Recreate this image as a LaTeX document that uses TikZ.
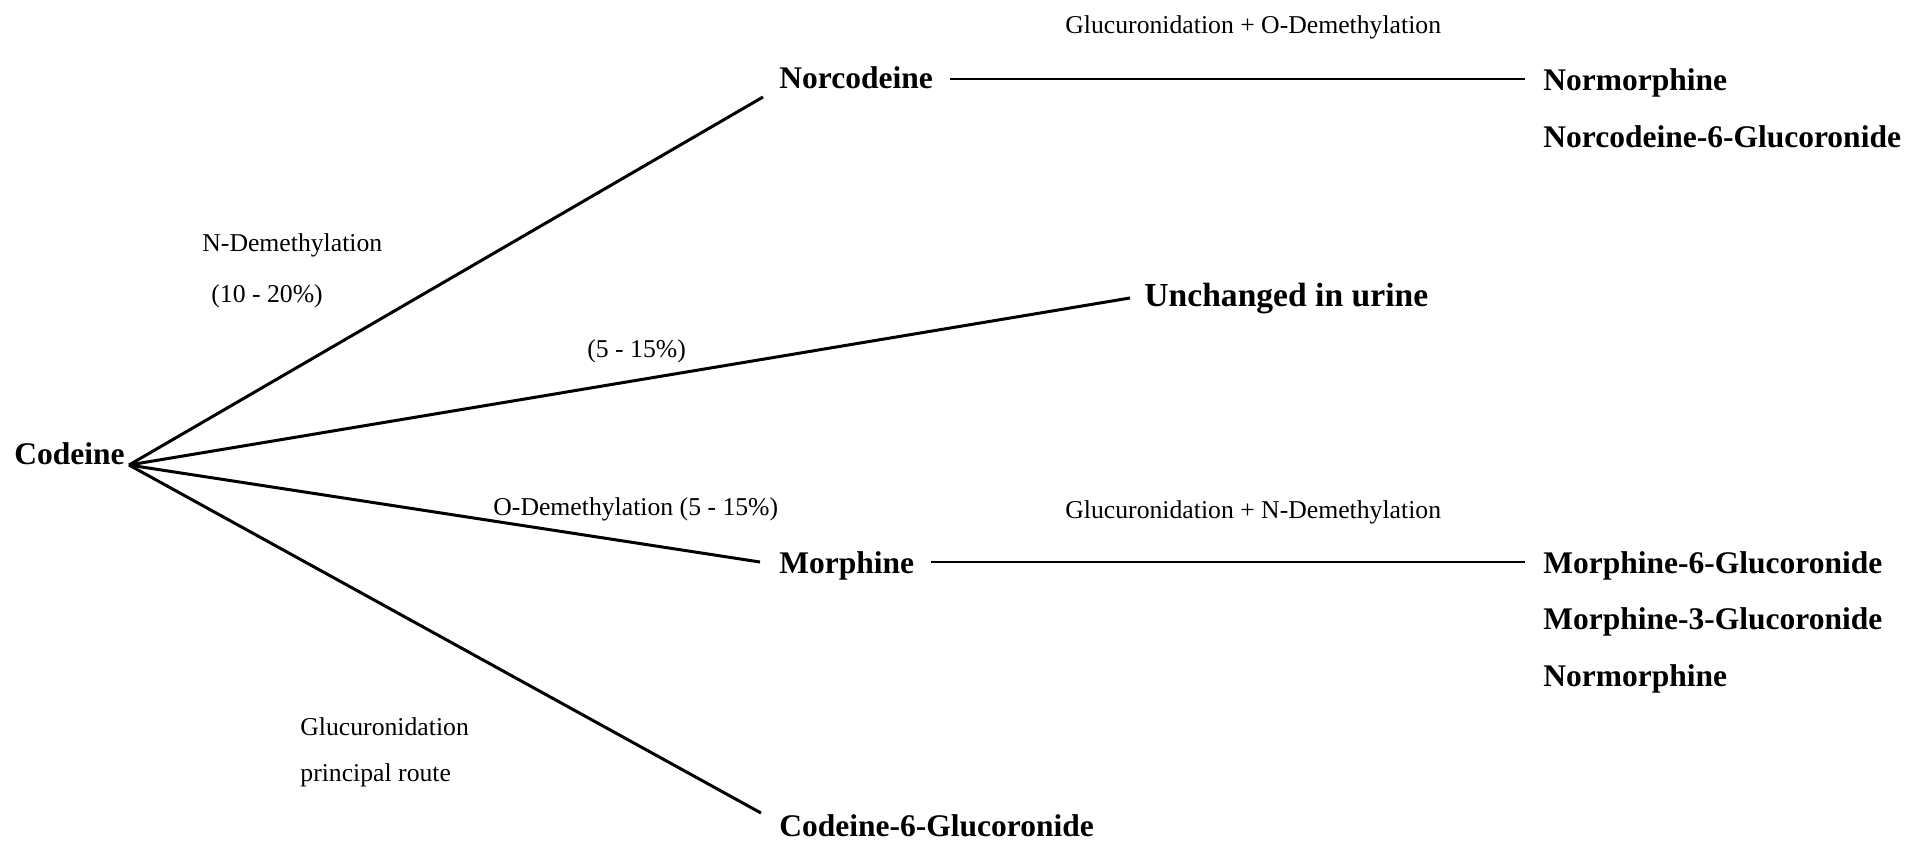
\documentclass[tikz,border=0pt]{standalone}
\usepackage{fontspec}
\setmainfont{Liberation Serif}
\begin{document}
\begin{tikzpicture}[x=0.5pt,y=-0.5pt,
  prod/.style={font=\fontsize{15.75pt}{18pt}\selectfont\bfseries,inner sep=0pt,anchor=base west},
  bigprod/.style={prod,font=\fontsize{16.8pt}{19pt}\selectfont\bfseries},
  lab/.style={font=\fontsize{12.85pt}{15pt}\selectfont,inner sep=0pt,anchor=base west},
  path/.style={line width=1.5pt},
  hpath/.style={line width=1.2pt}]
\useasboundingbox (0,0) rectangle (1909,841);
% product nodes
\node[prod] (cod) at (14,464) {Codeine};
\node[prod] (norc) at (779,88) {Norcodeine};
\node[prod] (normA) at (1543,90) {Normorphine};
\node[prod] (norc6) at (1543,147) {Norcodeine-6-Glucoronide};
\node[bigprod] (unch) at (1144,306) {Unchanged in urine};
\node[prod] (morph) at (779,573) {Morphine};
\node[prod] (m6g) at (1543,573) {Morphine-6-Glucoronide};
\node[prod] (m3g) at (1543,629) {Morphine-3-Glucoronide};
\node[prod] (normB) at (1543,686) {Normorphine};
\node[prod] (c6g) at (779,836) {Codeine-6-Glucoronide};
% labels
\node[lab] (l1) at (1065,33) {Glucuronidation + O-Demethylation};
\node[lab] (l2) at (202,251) {N-Demethylation};
\node[lab] (l3) at (211,302) {(10 - 20\%)};
\node[lab] (l4) at (587,357) {(5 - 15\%)};
\node[lab] (l5) at (493,515) {O-Demethylation (5 - 15\%)};
\node[lab] (l6) at (1065,518) {Glucuronidation + N-Demethylation};
\node[lab] (l7) at (300,735) {Glucuronidation};
\node[lab] (l8) at (300,781) {principal route};
% connector ends
\coordinate (apex) at (129,465);
\coordinate (eNorc) at (763,97);
\coordinate (eUnch) at (1130,298);
\coordinate (eMorph) at (760,562);
\coordinate (eC6g) at (761,813);
\coordinate (sNorc) at (950,79);
\coordinate (tNorc) at (1525,79);
\coordinate (sMorph) at (931,562);
\coordinate (tMorph) at (1525,562);
\draw[path] (apex) -- (eNorc);
\draw[path] (apex) -- (eUnch);
\draw[path] (apex) -- (eMorph);
\draw[path] (apex) -- (eC6g);
\draw[hpath] (sNorc) -- (tNorc);
\draw[hpath] (sMorph) -- (tMorph);
\end{tikzpicture}
\end{document}
